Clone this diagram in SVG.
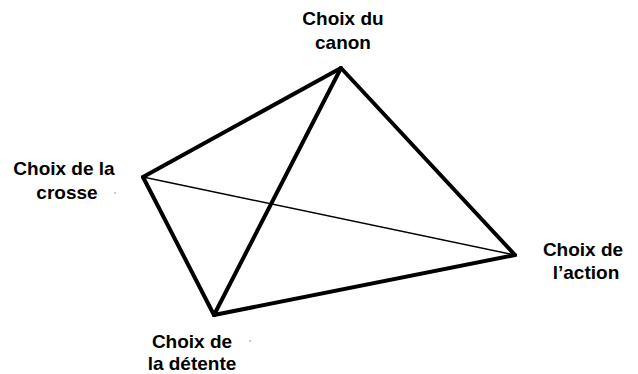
<svg xmlns="http://www.w3.org/2000/svg" width="638" height="374" viewBox="0 0 638 374">
<style>
text{font-family:"Liberation Sans",Arial,sans-serif;font-weight:bold;font-size:19px;fill:#000;text-anchor:middle}
.thick{stroke:#000;stroke-width:4;stroke-linecap:round;stroke-linejoin:round;fill:none}
.thin{stroke:#000;stroke-width:1.5;fill:none}
.dot{fill:#888}
</style>
<rect width="638" height="374" fill="#fff"/>
<g id="connectors">
<line class="thick" x1="341" y1="68" x2="143" y2="177"/>
<line class="thick" x1="341" y1="68" x2="515" y2="255"/>
<line class="thick" x1="143" y1="177" x2="214" y2="315"/>
<line class="thick" x1="214" y1="315" x2="515" y2="255"/>
<line class="thick" x1="341" y1="68" x2="214" y2="315"/>
<line class="thin" x1="143" y1="177" x2="515" y2="255"/>
</g>
<g id="node-canon">
<text x="343" y="25">Choix du</text>
<text x="343" y="49">canon</text>
</g>
<g id="node-crosse">
<text x="64" y="175">Choix de la</text>
<text x="67" y="199">crosse</text>
<circle class="dot" cx="108" cy="171" r="0.8"/>
<circle class="dot" cx="115" cy="193" r="0.8"/>
</g>
<g id="node-detente">
<text x="192" y="348">Choix de</text>
<text x="192" y="370">la détente</text>
<circle class="dot" cx="250" cy="341" r="0.8"/>
</g>
<g id="node-action">
<text x="583" y="256">Choix de</text>
<text x="586" y="279">l’action</text>
</g>
</svg>
